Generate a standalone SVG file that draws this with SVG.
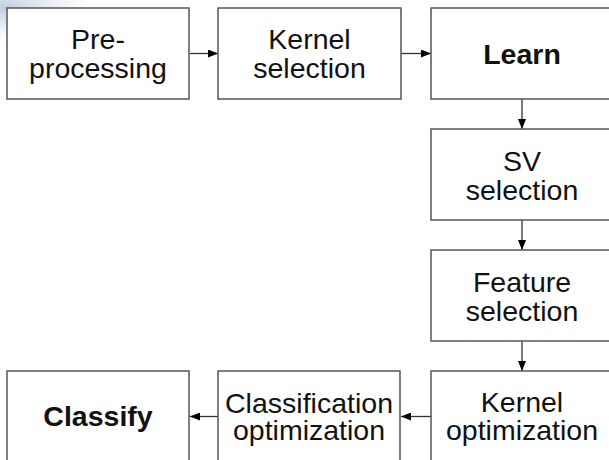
<svg xmlns="http://www.w3.org/2000/svg" width="609" height="460" viewBox="0 0 609 460">
<defs>
<radialGradient id="glow" cx="0" cy="0" r="1" gradientUnits="userSpaceOnUse" gradientTransform="translate(5 8) scale(90 35)">
<stop offset="0" stop-color="#b9c6dc" stop-opacity="0.9"/>
<stop offset="1" stop-color="#dfe6f1" stop-opacity="0"/>
</radialGradient>
<marker id="ah" viewBox="0 0 10 8" refX="10" refY="4" markerWidth="10" markerHeight="8" markerUnits="userSpaceOnUse" orient="auto">
<path d="M0,0 L10,4 L0,8 Z" fill="#000"/>
</marker>
<style>
.box{fill:#fff;stroke:#555;stroke-width:1.5}
.t{font-family:"Liberation Sans",Arial,sans-serif;font-size:28.5px;fill:#111;text-anchor:middle}
.b{font-weight:bold}
.c{stroke:#333;stroke-width:1.3;fill:none;marker-end:url(#ah)}
</style>
</defs>
<rect width="609" height="460" fill="#fff"/>
<rect x="0" y="0" width="160" height="60" fill="url(#glow)"/>
<g id="connectors">
<line class="c" x1="190" y1="53.5" x2="218" y2="53.5"/>
<line class="c" x1="401" y1="53.5" x2="431" y2="53.5"/>
<line class="c" x1="522" y1="99" x2="522" y2="129"/>
<line class="c" x1="522" y1="220" x2="522" y2="250"/>
<line class="c" x1="522" y1="341" x2="522" y2="371"/>
<line class="c" x1="431" y1="416.5" x2="401" y2="416.5"/>
<line class="c" x1="218" y1="416.5" x2="190" y2="416.5"/>
</g>
<g id="preprocessing">
<rect class="box" x="7" y="8" width="182" height="91"/>
<text class="t" x="98" y="48.5">Pre-</text>
<text class="t" x="98" y="77.5">processing</text>
</g>
<g id="kernel-selection">
<rect class="box" x="218" y="8" width="183" height="91"/>
<text class="t" x="309.5" y="49">Kernel</text>
<text class="t" x="309.5" y="77.5">selection</text>
</g>
<g id="learn">
<rect class="box" x="431" y="8" width="183" height="91"/>
<text class="t b" x="522" y="64">Learn</text>
</g>
<g id="sv-selection">
<rect class="box" x="431" y="129" width="183" height="91"/>
<text class="t" x="522" y="171">SV</text>
<text class="t" x="522" y="199.5">selection</text>
</g>
<g id="feature-selection">
<rect class="box" x="431" y="250" width="183" height="91"/>
<text class="t" x="522" y="292">Feature</text>
<text class="t" x="522" y="320.5">selection</text>
</g>
<g id="kernel-optimization">
<rect class="box" x="431" y="371" width="183" height="91"/>
<text class="t" x="522" y="411.5">Kernel</text>
<text class="t" x="522" y="439.5">optimization</text>
</g>
<g id="classification-optimization">
<rect class="box" x="218" y="371" width="182" height="91"/>
<text class="t" x="309" y="413" textLength="168" lengthAdjust="spacingAndGlyphs">Classification</text>
<text class="t" x="309" y="439.5">optimization</text>
</g>
<g id="classify">
<rect class="box" x="7" y="371" width="182" height="91"/>
<text class="t b" x="98" y="426">Classify</text>
</g>
</svg>
